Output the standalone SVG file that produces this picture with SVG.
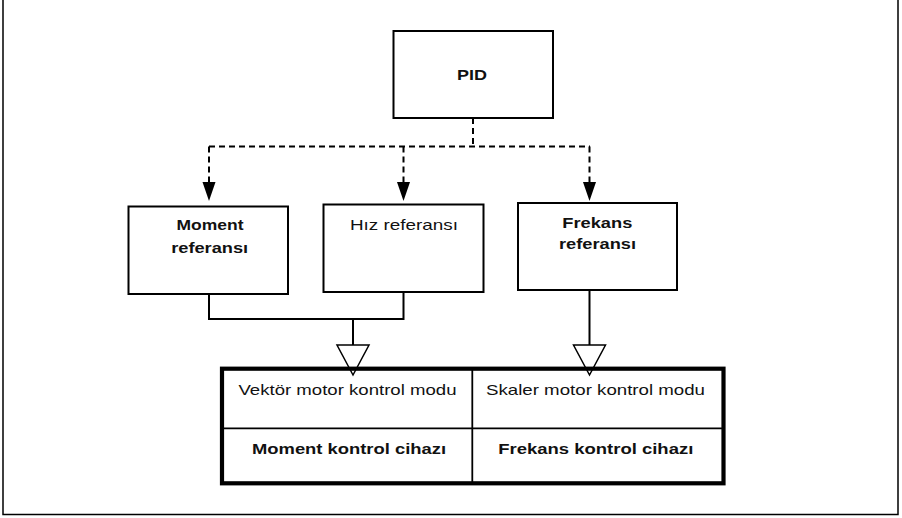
<svg xmlns="http://www.w3.org/2000/svg" width="902" height="518" viewBox="0 0 902 518">
<style>
.box{fill:#fff;stroke:#000;stroke-width:2}
.t{font-family:"Liberation Sans",Arial,sans-serif;font-size:15px;fill:#111;text-anchor:middle}
.b{font-weight:bold}
.dash{fill:none;stroke:#000;stroke-width:2;stroke-dasharray:6 4}
.line{fill:none;stroke:#000;stroke-width:2}
.tri{fill:#fff;stroke:#000;stroke-width:1.5}
</style>
<defs>
<marker id="ah" markerWidth="13" markerHeight="19" refX="6.5" refY="19" orient="auto-start-reverse" markerUnits="userSpaceOnUse" viewBox="0 0 13 19">
<path d="M0,0 L13,0 L6.5,19 Z" fill="#000"/>
</marker>
</defs>
<rect x="0" y="0" width="902" height="518" fill="#fff"/>
<path d="M3,0 V514.5 H898 V0" fill="none" stroke="#000" stroke-width="1.5"/>

<g id="connectors">
<path class="dash" d="M473,118 V146.5 M209,146.5 H590"/>
<line class="dash" x1="209" y1="146.5" x2="209" y2="182"/>
<line class="dash" x1="403.5" y1="146.5" x2="403.5" y2="182"/>
<line class="dash" x1="589.5" y1="146.5" x2="589.5" y2="182"/>
<path d="M202.5,182 L215.5,182 L209,201 Z" fill="#000"/>
<path d="M397,182 L410,182 L403.5,201 Z" fill="#000"/>
<path d="M583,182 L596,182 L589.5,201 Z" fill="#000"/>
<path class="line" d="M209,294 V319 H403.5 V292 M353,319 V345"/>
<path class="line" d="M589.5,290 V345"/>
<path class="tri" d="M337,345 L369,345 L353,375 Z"/>
<path class="tri" d="M573.5,345 L605.5,345 L589.5,375 Z"/>
</g>

<g id="pid">
<rect class="box" x="393.5" y="31" width="159.5" height="87"/>
<text class="t b" x="472" y="80" textLength="30" lengthAdjust="spacingAndGlyphs">PID</text>
</g>

<g id="moment-ref">
<rect class="box" x="128.5" y="206.5" width="159.5" height="87.5"/>
<text class="t b" x="210" y="230" textLength="67" lengthAdjust="spacingAndGlyphs">Moment</text>
<text class="t b" x="209.7" y="253.3" textLength="77" lengthAdjust="spacingAndGlyphs">referansı</text>
</g>

<g id="hiz-ref">
<rect class="box" x="323.5" y="204.5" width="160" height="87.5"/>
<text class="t" x="404" y="230" textLength="108" lengthAdjust="spacingAndGlyphs">Hız referansı</text>
</g>

<g id="frekans-ref">
<rect class="box" x="518" y="203" width="159" height="87"/>
<text class="t b" x="597.3" y="228.3" textLength="70" lengthAdjust="spacingAndGlyphs">Frekans</text>
<text class="t b" x="597.5" y="249.3" textLength="77" lengthAdjust="spacingAndGlyphs">referansı</text>
</g>

<g id="control-table">
<rect x="222" y="368.7" width="501.5" height="114.6" fill="none" stroke="#000" stroke-width="4.2"/>
<line x1="472.3" y1="368.7" x2="472.3" y2="483.3" stroke="#000" stroke-width="1.8"/>
<line x1="222" y1="428.3" x2="723.5" y2="428.3" stroke="#000" stroke-width="1.8"/>
<text class="t" x="347.5" y="395.3" textLength="218" lengthAdjust="spacingAndGlyphs">Vektör motor kontrol modu</text>
<text class="t" x="595.5" y="395.3" textLength="219" lengthAdjust="spacingAndGlyphs">Skaler motor kontrol modu</text>
<text class="t b" x="349" y="454" textLength="194" lengthAdjust="spacingAndGlyphs">Moment kontrol cihazı</text>
<text class="t b" x="595.8" y="453.7" textLength="195" lengthAdjust="spacingAndGlyphs">Frekans kontrol cihazı</text>
</g>
</svg>
